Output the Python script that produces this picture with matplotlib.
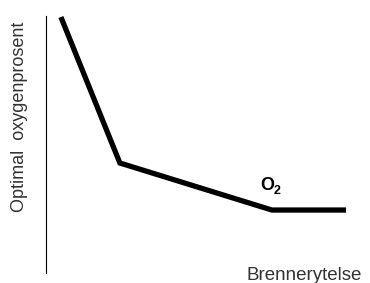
import matplotlib
matplotlib.use("Agg")
import matplotlib.pyplot as plt

# burner load (%) vs optimal oxygen (%), schematic
load = [4.9, 24.3, 74.3, 98.7]
oxygen = [99.6, 42.8, 24.5, 24.5]

W, H = 370, 283
fig = plt.figure(figsize=(W / 100, H / 100), dpi=100)
ax = fig.add_axes([46 / W, 1 - 273 / H, 304 / W, 257 / H])
ax.plot(load, oxygen, color="black", linewidth=3.8, solid_joinstyle="miter", solid_capstyle="butt")
ax.set_xlim(0, 100)
ax.set_ylim(0, 100)
ax.set_xticks([]); ax.set_yticks([])
for side in ("top", "right", "bottom"):
    ax.spines[side].set_visible(False)
ax.spines["left"].set_linewidth(0.8)

font = ["Liberation Sans", "DejaVu Sans"]
# O2 label: big O with an overlapping small 2
fig.text(267 / W, 1 - 185 / H, "O", fontsize=13, family=font, fontweight="bold", ha="center", va="center", color="black")
fig.text(277 / W, 1 - 191.5 / H, "2", fontsize=9, family=font, fontweight="bold", ha="center", va="center", color="black")
fig.text(362 / W, 1 - 275 / H, "Brennerytelse", fontsize=13.5, family=font, ha="right", va="center", color="#333333")
fig.text(20 / W, 1 - 117 / H, "Optimal  oxygenprosent", fontsize=13, family=font, rotation=90, ha="center", va="center", color="#333333")

fig.savefig("out.png", dpi=100)
